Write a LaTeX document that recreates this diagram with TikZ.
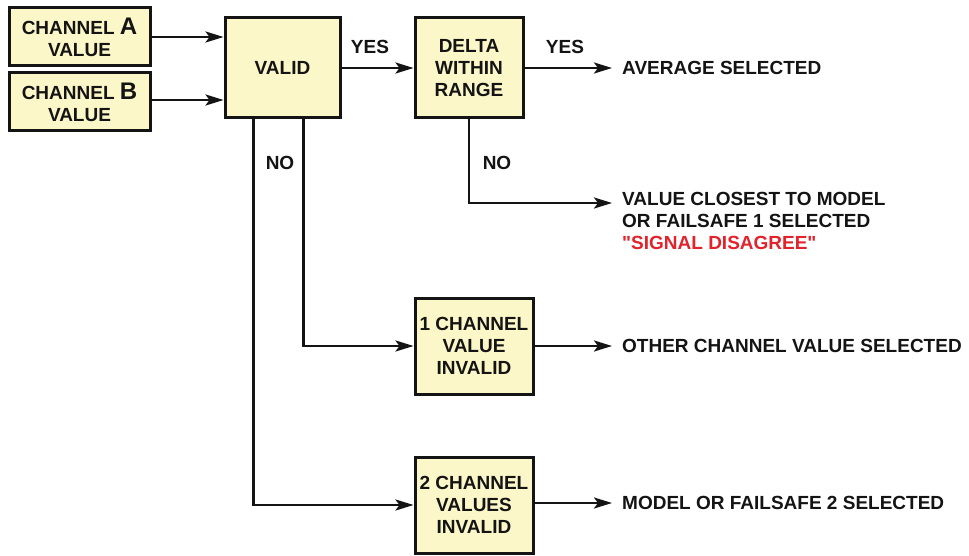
\documentclass[tikz,border=0pt]{standalone}
\usepackage{fontspec}
\setmainfont{Liberation Sans}[Ligatures=TeXOff]
\usetikzlibrary{arrows.meta,calc}
\definecolor{boxfill}{HTML}{FBF7C8}
\definecolor{alertred}{HTML}{E3232C}
\definecolor{ink}{HTML}{141414}
\begin{document}
\begin{tikzpicture}[x=1pt,y=-1pt,
  every node/.style={font=\fontsize{19}{22}\selectfont\bfseries, text=ink},
  blk/.style={draw=ink, line width=3pt, fill=boxfill, align=center, inner sep=0pt},
  arr/.style={draw=ink, line width=2.6pt, -{Stealth[length=18pt,width=11pt,inset=4pt]}},
  outtxt/.style={anchor=west, inner xsep=10pt, inner ysep=0pt, align=left},
  lbl/.style={inner sep=0pt}
]
\useasboundingbox (0,0) rectangle (969,556);
\fill[white] (0,0) rectangle (969,556);

\node[blk, minimum width=141pt, minimum height=58pt] (A) at (79.5,37)
  {CHANNEL {\fontsize{24}{22}\selectfont A}\\VALUE};
\node[blk, minimum width=141pt, minimum height=58pt] (B) at (79.5,102)
  {CHANNEL {\fontsize{24}{22}\selectfont B}\\VALUE};
\node[blk, minimum width=115pt, minimum height=100pt] (V) at (282.5,68) {VALID};
\node[blk, minimum width=108pt, minimum height=100pt] (D) at (469,68) {DELTA\\WITHIN\\RANGE};
\node[blk, minimum width=118pt, minimum height=96pt] (O) at (474,346) {1 CHANNEL\\VALUE\\INVALID};
\node[blk, minimum width=118pt, minimum height=96pt] (T) at (474,505) {2 CHANNEL\\VALUES\\INVALID};

\node[outtxt] (avg) at (612,68) {AVERAGE SELECTED};
\node[outtxt] (oth) at (612,346) {OTHER CHANNEL VALUE SELECTED};
\node[outtxt] (mod) at (612,503) {MODEL OR FAILSAFE 2 SELECTED};
\coordinate (vc) at (612,203);
\node[anchor=north west, inner sep=0pt, align=left] (clo) at (622,192)
  {VALUE CLOSEST TO MODEL\\OR FAILSAFE 1 SELECTED\\\textcolor{alertred}{"SIGNAL DISAGREE"}};

\draw[arr] (A.east) -- (A.east -| V.west);
\draw[arr] ($(B.east)+(0,-2)$) -- ($(B.east -| V.west)+(0,-2)$);
\draw[arr] (V.east) -- (D.west);
\draw[arr] (D.east) -- (avg.west);
\draw[arr] (D.south) |- (vc);
\draw[arr] ($(V.south east)+(-38,0)$) |- (O.west);
\draw[arr] ($(V.south west)+(30,0)$) |- (T.west);
\draw[arr] (O.east) -- (oth.west);
\draw[arr] (T.east |- mod.west) -- (mod.west);

\node[lbl] (y1) at (370,47) {YES};
\node[lbl] (y2) at (565,47) {YES};
\node[lbl] (n1) at (280,163) {NO};
\node[lbl] (n2) at (497,163) {NO};
\end{tikzpicture}
\end{document}
